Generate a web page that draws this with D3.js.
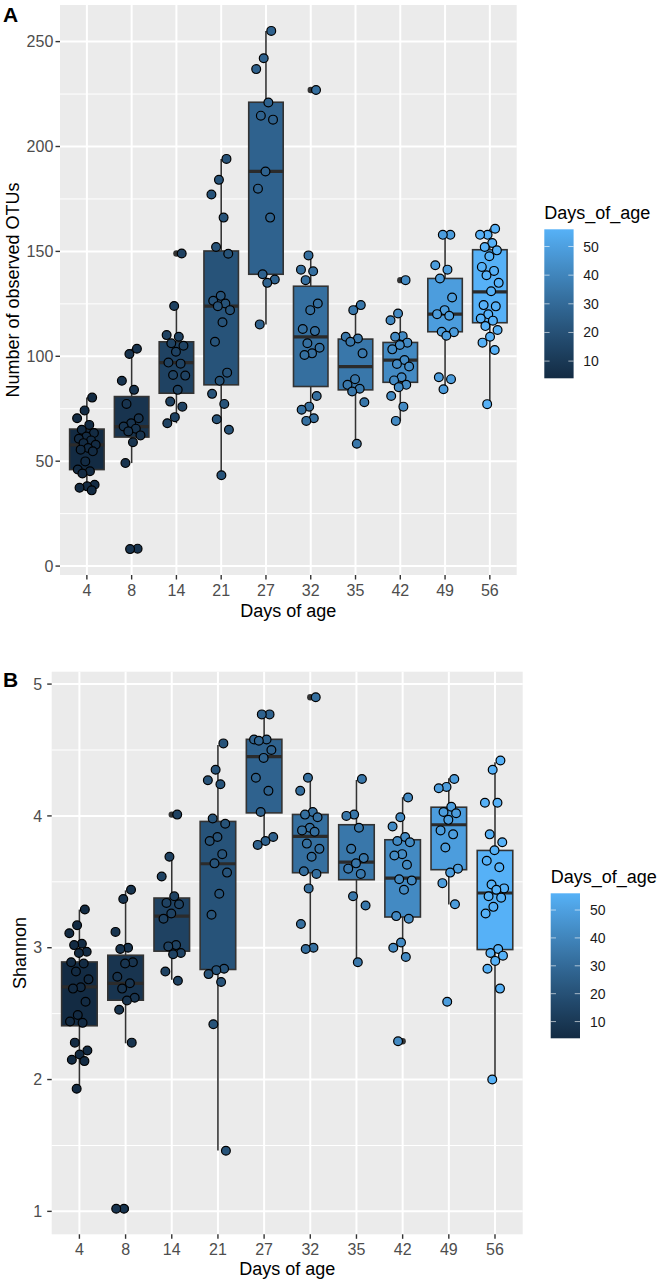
<!DOCTYPE html>
<html><head><meta charset="utf-8">
<script src="https://cdn.jsdelivr.net/npm/d3@7"></script>
<style>body{margin:0;background:#fff} svg{display:block} text{font-family:"Liberation Sans",Arial,Helvetica,sans-serif}</style>
</head><body><svg id="c" width="666" height="1285"></svg>
<script>
// ---------- data ----------
const days = [4, 8, 14, 21, 27, 32, 35, 42, 49, 56];
const legendTicks = [10, 20, 30, 40, 50];
const yTicksA = [0, 50, 100, 150, 200, 250];
const yTicksB = [1, 2, 3, 4, 5];

// Panel A: observed OTUs, individual samples per day
const otu4  = [80.3,74.2,70.5,67.3,65,63.4,61.8,60.7,59.9,58.6,57.8,56.3,55.5,54.7,49.9,46,45.2,44.1,38.8,38,37.3,36.1];
const otu8  = [103.6,101.1,88.3,84,77.3,70.5,68.1,66.5,65.5,64.2,62.3,59,49.1,8.3,8.1];
const otu14 = [149,124,110.1,109.3,106.2,105,102.2,97,96.5,91.1,90.8,84,78.4,76,71,68.1];
const otu21 = [194.1,184.1,177.1,166.1,152.1,148.9,128.8,126.5,125.2,123.9,122,116.2,106.9,92.2,88.3,82.1,77.3,70,65,43.3];
const otu27 = [255.1,242.1,236.9,221,214.7,212.8,188.1,179.9,166.1,139.1,136.6,135,115.2];
const otu32 = [226.9,148.1,141.3,140.5,136.3,125.2,122,113,112,106.2,104.1,101.4,100.6,81.1,76,74.5,70.5,69.2];
const otu35 = [124.4,122,109.3,108.5,106.9,101.4,89.1,86.4,84.5,83.2,78.1,58.3];
const otu42 = [136.3,120.4,117.2,109.6,109.3,106.5,105.4,103.3,98.2,96.3,95.1,90,88.5,86.4,85.3,81.1,76,69.2];
const otu49 = [157.9,157.9,143.4,141.3,137.1,128,122,120.1,119.3,111.7,111.5,109.8,90,89.1,84.3];
const otu56 = [160.8,157.9,157.9,154,152.1,150.5,147.7,142.6,140.7,138.6,135,131,124.4,123.8,120,118,117,114.4,112.5,109.3,106.5,103,77.2];
// box stats A: lower whisker, q1, median, q3, upper whisker
const otuLo  = [36.1,49.1,68.1,43.3,115.2,68.9,58.3,69.2,84.3,77.2];
const otuQ1  = [46,61.5,82.4,86.4,139.1,85.6,84,87.6,111.7,116];
const otuMed = [57.8,66.5,97,123.9,188.1,109.3,95.1,98.2,120.1,130.7];
const otuQ3  = [65.3,80.8,106.9,150.2,221.1,133.4,108.2,106.6,137.1,150.8];
const otuHi  = [80.3,103.6,124,194.1,255.1,148.1,124.4,120.4,157.9,160.8];

// Panel B: Shannon
const sh4  = [3.29,3.17,3.11,3.03,3.02,2.97,2.96,2.89,2.88,2.82,2.76,2.70,2.69,2.59,2.49,2.44,2.43,2.28,2.22,2.19,2.15,2.14,1.93];
const sh8  = [3.44,3.37,3.12,3.00,2.99,2.89,2.88,2.78,2.73,2.69,2.62,2.60,2.53,2.28,1.02,1.02];
const sh14 = [4.01,3.69,3.54,3.39,3.34,3.33,3.26,3.22,3.02,3.01,2.96,2.95,2.82,2.75];
const sh21 = [4.55,4.35,4.27,4.24,3.98,3.94,3.84,3.81,3.71,3.64,3.57,3.41,3.25,2.84,2.83,2.80,2.74,2.42,1.46];
const sh27 = [4.77,4.77,4.58,4.58,4.57,4.50,4.44,4.29,4.19,4.03,3.84,3.81,3.78];
const sh32 = [4.90,4.29,4.19,4.03,4.01,3.99,3.91,3.89,3.88,3.79,3.75,3.69,3.58,3.56,3.45,3.18,3.00,2.99];
const sh35 = [4.28,4.01,4.00,3.91,3.75,3.68,3.64,3.60,3.56,3.39,3.32,2.89];
const sh42 = [4.14,3.99,3.92,3.84,3.81,3.80,3.71,3.70,3.63,3.52,3.51,3.44,3.24,3.22,3.04,3.00,2.93,2.29];
const sh49 = [4.28,4.22,4.21,4.07,4.03,4.02,3.97,3.89,3.86,3.76,3.60,3.57,3.49,3.33,2.59];
const sh56 = [4.42,4.35,4.10,4.10,3.86,3.80,3.74,3.66,3.61,3.48,3.45,3.44,3.39,3.38,3.31,3.26,2.99,2.96,2.94,2.90,2.84,2.69,2.00];
const shLo  = [1.93,2.275,2.757,1.462,3.78,2.994,2.885,2.931,3.327,1.997];
const shQ1  = [2.408,2.602,2.974,2.835,4.023,3.569,3.516,3.233,3.592,2.986];
const shMed = [2.703,2.729,3.239,3.637,4.45,3.844,3.650,3.528,3.933,3.415];
const shQ3  = [2.892,2.943,3.377,3.958,4.581,4.011,3.933,3.819,4.066,3.738];
const shHi  = [3.289,3.435,3.69,4.538,4.768,4.293,4.273,4.142,4.286,4.407];

// ---------- drawing ----------
const svg = d3.select("#c");
const color = d3.scaleLinear().domain([4, 56]).range(["#132B43", "#56B1F7"]).interpolate(d3.interpolateLab);

// gradient for colour bars
const defs = svg.append("defs");
const grad = defs.append("linearGradient").attr("id", "cbar")
  .attr("x1", 0).attr("y1", 1).attr("x2", 0).attr("y2", 0);
d3.range(0, 1.0001, 0.05).forEach(t => {
  grad.append("stop").attr("offset", t).attr("stop-color", color(4 + t * 52));
});

function jit(i) { return (((i + 1) * 0.6180339887 + 0.15) % 1 - 0.5) * 2 * 0.22; }

function panel(cfg) {
  const g = svg.append("g");
  const x = d3.scalePoint().domain(days.map(String)).range([cfg.left, cfg.right]).padding(0.6);
  const step = x.step();
  const all = cfg.groups.flat();
  const ext = d3.extent(all);
  const pad = (ext[1] - ext[0]) * 0.05;
  const y = d3.scaleLinear().domain([ext[0] - pad, ext[1] + pad]).range([cfg.bottom, cfg.top]);
  const eps = (ext[1] - ext[0]) * 0.005;

  g.append("rect").attr("x", cfg.left).attr("y", cfg.top)
    .attr("width", cfg.right - cfg.left).attr("height", cfg.bottom - cfg.top).attr("fill", "#EBEBEB");
  // minor grid
  const minor = d3.pairs(cfg.yTicks).map(p => (p[0] + p[1]) / 2);
  g.selectAll(".mn").data(minor).join("line")
    .attr("x1", cfg.left).attr("x2", cfg.right).attr("y1", d => y(d)).attr("y2", d => y(d))
    .attr("stroke", "#fff").attr("stroke-width", 1);
  // major grid
  g.selectAll(".mj").data(cfg.yTicks).join("line")
    .attr("x1", cfg.left).attr("x2", cfg.right).attr("y1", d => y(d)).attr("y2", d => y(d))
    .attr("stroke", "#fff").attr("stroke-width", 2);
  g.selectAll(".mx").data(days).join("line")
    .attr("x1", d => x(String(d))).attr("x2", d => x(String(d))).attr("y1", cfg.top).attr("y2", cfg.bottom)
    .attr("stroke", "#fff").attr("stroke-width", 2);

  // boxplots
  const bw = step * 0.77;
  days.forEach((d, i) => {
    const cx = x(String(d));
    const s = cfg.stats;
    const bx = g.append("g");
    bx.append("line").attr("x1", cx).attr("x2", cx).attr("y1", y(s.hi[i])).attr("y2", y(s.q3[i]))
      .attr("stroke", "#333").attr("stroke-width", 1.6);
    bx.append("line").attr("x1", cx).attr("x2", cx).attr("y1", y(s.q1[i])).attr("y2", y(s.lo[i]))
      .attr("stroke", "#333").attr("stroke-width", 1.6);
    bx.append("rect").attr("x", cx - bw / 2).attr("width", bw)
      .attr("y", y(s.q3[i])).attr("height", y(s.q1[i]) - y(s.q3[i]))
      .attr("fill", color(d)).attr("stroke", "#333").attr("stroke-width", 1.6);
    bx.append("line").attr("x1", cx - bw / 2).attr("x2", cx + bw / 2)
      .attr("y1", y(s.med[i])).attr("y2", y(s.med[i]))
      .attr("stroke", "#2b2b2b").attr("stroke-width", 3.2);
    // outliers
    const outs = cfg.groups[i].filter(v => v < s.lo[i] - eps || v > s.hi[i] + eps);
    bx.selectAll("circle").data(outs).join("circle")
      .attr("cx", cx).attr("cy", v => y(v)).attr("r", 3.2).attr("fill", "#333");
  });
  // jittered points
  days.forEach((d, i) => {
    const cx = x(String(d));
    g.append("g").selectAll("circle").data(cfg.groups[i]).join("circle")
      .attr("cx", (v, j) => cx + jit(j) * step).attr("cy", v => y(v)).attr("r", 4.4)
      .attr("fill", color(d)).attr("stroke", "#000").attr("stroke-width", 1.2);
  });

  // axes
  const ya = g.append("g");
  cfg.yTicks.forEach(t => {
    ya.append("line").attr("x1", cfg.left - 4.5).attr("x2", cfg.left).attr("y1", y(t)).attr("y2", y(t))
      .attr("stroke", "#333").attr("stroke-width", 1.4);
    ya.append("text").attr("x", cfg.left - cfg.yLabGap).attr("y", y(t)).attr("dy", "0.36em")
      .attr("text-anchor", "end").attr("font-size", 16).attr("fill", "#4D4D4D").text(t);
  });
  const xa = g.append("g");
  days.forEach(d => {
    const cx = x(String(d));
    xa.append("line").attr("x1", cx).attr("x2", cx).attr("y1", cfg.bottom).attr("y2", cfg.bottom + 4.5)
      .attr("stroke", "#333").attr("stroke-width", 1.4);
    xa.append("text").attr("x", cx).attr("y", cfg.bottom + 20.8).attr("text-anchor", "middle")
      .attr("font-size", 16).attr("fill", "#4D4D4D").text(d);
  });
  g.append("text").attr("x", (cfg.left + cfg.right) / 2).attr("y", cfg.xTitleY)
    .attr("text-anchor", "middle").attr("font-size", 18).attr("fill", "#000").text("Days of age");
  g.append("text").attr("transform", `translate(${cfg.yTitleX},${(cfg.top + cfg.bottom) / 2}) rotate(-90)`)
    .attr("text-anchor", "middle").attr("font-size", 18).attr("fill", "#000").text(cfg.yTitle);
  g.append("text").attr("x", 3).attr("y", cfg.labelY).attr("font-size", 21).attr("font-weight", "bold")
    .attr("fill", "#000").text(cfg.label);

  // legend
  const L = cfg.legend;
  const ly = d3.scaleLinear().domain([4, 56]).range([L.bottom, L.top]);
  g.append("text").attr("x", L.x).attr("y", L.titleY).attr("font-size", 18).attr("fill", "#000").text("Days_of_age");
  g.append("rect").attr("x", L.x).attr("y", L.top).attr("width", L.w).attr("height", L.bottom - L.top)
    .attr("fill", "url(#cbar)");
  legendTicks.forEach(t => {
    g.append("line").attr("x1", L.x).attr("x2", L.x + L.w * 0.18).attr("y1", ly(t)).attr("y2", ly(t))
      .attr("stroke", "#fff").attr("stroke-opacity", 0.6).attr("stroke-width", 1);
    g.append("line").attr("x1", L.x + L.w * 0.82).attr("x2", L.x + L.w).attr("y1", ly(t)).attr("y2", ly(t))
      .attr("stroke", "#fff").attr("stroke-opacity", 0.6).attr("stroke-width", 1);
    g.append("text").attr("x", L.labX).attr("y", ly(t)).attr("dy", "0.36em").attr("font-size", 14)
      .attr("fill", "#1a1a1a").text(t);
  });
}

panel({
  left: 60, right: 516.7, top: 5, bottom: 575,
  groups: [otu4, otu8, otu14, otu21, otu27, otu32, otu35, otu42, otu49, otu56],
  stats: { lo: otuLo, q1: otuQ1, med: otuMed, q3: otuQ3, hi: otuHi },
  yTicks: yTicksA, yTitle: "Number of observed OTUs", yTitleX: 18.5, yLabGap: 6.7,
  xTitleY: 616.5, label: "A", labelY: 21.7,
  legend: { x: 544.3, w: 29.3, top: 229.3, bottom: 378.3, titleY: 219.3, labX: 583.3 }
});
panel({
  left: 51.7, right: 522.7, top: 671.7, bottom: 1234.3,
  groups: [sh4, sh8, sh14, sh21, sh27, sh32, sh35, sh42, sh49, sh56],
  stats: { lo: shLo, q1: shQ1, med: shMed, q3: shQ3, hi: shHi },
  yTicks: yTicksB, yTitle: "Shannon", yTitleX: 25.5, yLabGap: 9.5,
  xTitleY: 1274.6, label: "B", labelY: 687,
  legend: { x: 550.7, w: 29.3, top: 893.3, bottom: 1038.3, titleY: 883.3, labX: 590 }
});
</script></body></html>
